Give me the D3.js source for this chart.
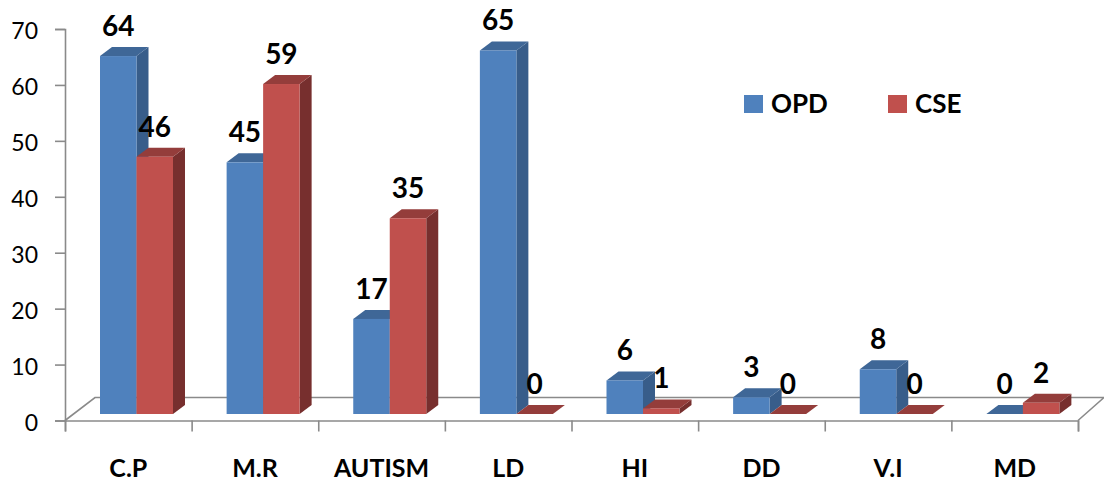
<!DOCTYPE html>
<html>
<head>
<meta charset="utf-8">
<script src="https://cdn.jsdelivr.net/npm/d3@7"></script>
<style>
  html, body { margin: 0; padding: 0; background: #fff; }
  svg { display: block; }
  text { font-family: Lato, "Open Sans", sans-serif; fill: #000; }
</style>
</head>
<body>
<svg id="chart" width="1104" height="482"></svg>
<script>
const categories = ['C.P', 'M.R', 'AUTISM', 'LD', 'HI', 'DD', 'V.I', 'MD'];
const seriesNames = ['OPD', 'CSE'];
const opdValues = [64, 45, 17, 65, 6, 3, 8, 0];
const cseValues = [46, 59, 35, 0, 1, 0, 0, 2];
const yTicks = [0, 10, 20, 30, 40, 50, 60, 70];

const svg = d3.select('#chart');

const colors = {
    OPD: { front: '#4f81bd', top: '#3f6797', side: '#385d8a' },
    CSE: { front: '#c0504d', top: '#943d3b', side: '#772f2e' }
};
const gray = '#8a8a8a';

// 3d offsets of the floor and of the bars
const floorDx = 26, floorDy = 22;
const barDx = 12, barDy = 9, barLift = 6.5;

const x = d3.scaleBand().domain(categories).range([65, 1078]);
const xSeries = d3.scaleBand().domain(seriesNames).range([35, 108]);
const y = d3.scaleLinear().domain([0, 70]).range([420.5, 29]);

// floor
const x0 = x.range()[0], x1 = x.range()[1], y0 = y(0);
svg.append('path')
    .attr('d', `M${x0},${y0}L${x0 + 30},${y0 - floorDy - 1}L${x1 + floorDx},${y0 - floorDy - 1}L${x1},${y0}`)
    .attr('fill', 'none')
    .attr('stroke', gray)
    .attr('stroke-width', 1.6);

// bars
const series = [
    { name: 'OPD', values: opdValues },
    { name: 'CSE', values: cseValues }
];
const barData = [];
categories.forEach((c, i) => {
    series.forEach(s => barData.push({ cat: c, name: s.name, value: s.values[i] }));
});

const bars = svg.append('g').selectAll('g').data(barData).enter().append('g');

function barBox(d) {
    const l = x(d.cat) + xSeries(d.name);
    const r = l + xSeries.bandwidth();
    const b = y(0) - barLift;
    const t = y(d.value) - barLift;
    return { l, r, b, t };
}

bars.append('path') // side
    .attr('d', d => {
        const p = barBox(d);
        return `M${p.r},${p.t}L${p.r + barDx},${p.t - barDy}L${p.r + barDx},${p.b - barDy}L${p.r},${p.b}Z`;
    })
    .attr('fill', d => colors[d.name].side);

bars.append('path') // top
    .attr('d', d => {
        const p = barBox(d);
        return `M${p.l},${p.t}L${p.l + barDx},${p.t - barDy}L${p.r + barDx},${p.t - barDy}L${p.r},${p.t}Z`;
    })
    .attr('fill', d => colors[d.name].top);

bars.append('rect') // front
    .attr('x', d => barBox(d).l)
    .attr('y', d => barBox(d).t)
    .attr('width', xSeries.bandwidth())
    .attr('height', d => barBox(d).b - barBox(d).t)
    .attr('fill', d => colors[d.name].front);

// y axis
const yAxis = svg.append('g')
    .attr('transform', `translate(${x0},0)`)
    .call(d3.axisLeft(y).tickValues(yTicks).tickSize(10).tickPadding(17));

// x axis, ticks sit on the band edges so labels are a separate axis
const xEdges = d3.scaleLinear().domain([0, categories.length]).range(x.range());
const xAxis = svg.append('g')
    .attr('transform', `translate(0,${y0})`)
    .call(d3.axisBottom(xEdges).tickValues(d3.range(categories.length + 1)).tickSize(11).tickFormat(''));

const xLabels = svg.append('g')
    .attr('transform', `translate(0,${y0})`)
    .call(d3.axisBottom(x).tickSize(0).tickPadding(39));
xLabels.select('.domain').remove();

[yAxis, xAxis].forEach(a => {
    a.selectAll('.domain').attr('stroke', gray).attr('stroke-width', 1.6);
    a.selectAll('.tick line').attr('stroke', gray).attr('stroke-width', 1.6);
});
yAxis.selectAll('text').style('font-size', '23px').attr('dy', '0.42em').attr('fill', '#222');
xLabels.selectAll('text')
    .style('font-size', '25px')
    .style('font-weight', 700)
    .attr('fill', '#000');

// data labels
svg.append('g').selectAll('text').data(barData).enter().append('text')
    .attr('x', d => barBox(d).l + xSeries.bandwidth() / 2)
    .attr('y', d => barBox(d).t - 20)
    .attr('text-anchor', 'middle')
    .style('font-size', '28px')
    .style('font-weight', 700)
    .text(d => d.value);

// legend
const legendX = d3.scaleOrdinal().domain(seriesNames).range([744, 888]);
const legend = svg.append('g').selectAll('g').data(seriesNames).enter().append('g')
    .attr('transform', d => `translate(${legendX(d)},95)`);
legend.append('rect')
    .attr('width', 19)
    .attr('height', 18)
    .attr('fill', d => colors[d].front);
legend.append('text')
    .attr('x', 27)
    .attr('y', 18)
    .style('font-size', '26px')
    .style('font-weight', 700)
    .text(d => d);
</script>
</body>
</html>
